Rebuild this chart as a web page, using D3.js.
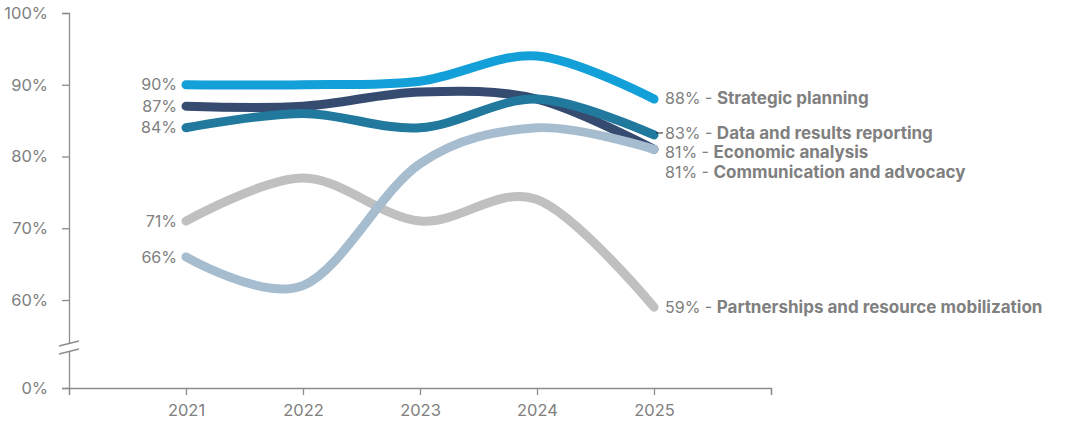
<!DOCTYPE html>
<html>
<head>
<meta charset="utf-8">
<script src="https://cdn.jsdelivr.net/npm/d3@7"></script>
<style>
  body { margin: 0; background: #fff; }
  svg text { font-family: Inter, "Open Sans", sans-serif; }
</style>
</head>
<body>
<svg id="chart" width="1073" height="421"></svg>
<script>
// data
const years = [2021, 2022, 2023, 2024, 2025];
const yTicks = [0, 60, 70, 80, 90, 100];
const strategicPlanning = [90, 90, 90.5, 94, 88];
const dataResults = [84, 86, 84, 88, 83];
const economicAnalysis = [87, 87, 89, 88, 81];
const communication = [66, 62, 79, 84, 81];
const partnerships = [71, 77, 71, 74, 59];

const width = 1073, height = 421;
const svg = d3.select('#chart');

// x: one step per year, axis runs a year past each end
const x = d3.scaleLinear().domain([2020, 2026]).range([69, 771]);
// y: broken axis, 0-50 squeezed into the bottom strip
const y = d3.scaleLinear().domain([0, 50, 100]).range([388, 371.75, 13]);

const axisColor = '#8c8c8c';
const textColor = '#808080';

// series in draw order (bottom first)
const series = [
  { name: 'Partnerships and resource mobilization', values: partnerships, color: '#c0c0c0', nudge: 0 },
  { name: 'Economic analysis', values: economicAnalysis, color: '#354b6f', nudge: 3 },
  { name: 'Communication and advocacy', values: communication, color: '#a6bccf', nudge: 23 },
  { name: 'Data and results reporting', values: dataResults, color: '#217a9d', nudge: -2, leader: true },
  { name: 'Strategic planning', values: strategicPlanning, color: '#13a0d8', nudge: -1 }
];

// y axis
const yAxis = svg.append('g')
  .attr('transform', `translate(${x(2020)},0)`)
  .call(d3.axisLeft(y).tickValues(yTicks).tickSize(7).tickFormat(d => d + '%'));
yAxis.select('.domain').attr('stroke', axisColor).attr('stroke-width', 1.3);
yAxis.selectAll('.tick line').attr('stroke', axisColor).attr('stroke-width', 1.3);
yAxis.selectAll('.tick text')
  .attr('x', -21)
  .attr('fill', textColor)
  .style('font-size', '16.5px');

// axis break
const bx = x(2020);
svg.append('polygon')
  .attr('points', `${bx - 10},${346} ${bx + 10},${341} ${bx + 10},${349} ${bx - 10},${354}`)
  .attr('fill', '#fff');
[[346, 341], [354, 349]].forEach(([a, b]) => {
  svg.append('line')
    .attr('x1', bx - 10).attr('y1', a)
    .attr('x2', bx + 10).attr('y2', b)
    .attr('stroke', axisColor).attr('stroke-width', 1.3);
});

// x axis
const xAxis = svg.append('g')
  .attr('transform', `translate(0,${y(0)})`)
  .call(d3.axisBottom(x).tickValues(d3.range(2020, 2027)).tickSize(7)
    .tickFormat(d => years.includes(d) ? d : ''));
xAxis.select('.domain').attr('stroke', axisColor).attr('stroke-width', 1.3);
xAxis.selectAll('.tick line').attr('stroke', axisColor).attr('stroke-width', 1.3);
xAxis.selectAll('.tick text')
  .attr('y', 16)
  .attr('fill', textColor)
  .style('font-size', '16.5px');

// lines
const line = d3.line()
  .x((d, i) => x(years[i]))
  .y(d => y(d))
  .curve(d3.curveCatmullRom.alpha(0));

svg.append('g').selectAll('path')
  .data(series)
  .enter().append('path')
  .attr('d', d => line(d.values))
  .attr('fill', 'none')
  .attr('stroke', d => d.color)
  .attr('stroke-width', 9)
  .attr('stroke-linecap', 'round')
  .attr('stroke-linejoin', 'round');

// start labels
svg.append('g').selectAll('text')
  .data(series)
  .enter().append('text')
  .attr('x', x(years[0]) - 9)
  .attr('y', d => y(d.values[0]))
  .attr('dy', '0.35em')
  .attr('text-anchor', 'end')
  .attr('fill', textColor)
  .style('font-size', '16px')
  .text(d => d.values[0] + '%');

// end labels
const last = years.length - 1;
series.filter(d => d.leader).forEach(d => {
  svg.append('line')
    .attr('x1', x(years[last]) + 2).attr('x2', x(years[last]) + 9)
    .attr('y1', y(d.values[last]) + d.nudge).attr('y2', y(d.values[last]) + d.nudge)
    .attr('stroke', '#222').attr('stroke-width', 1);
});
const endLabels = svg.append('g').selectAll('text')
  .data(series)
  .enter().append('text')
  .attr('x', x(years[last]) + 11)
  .attr('y', d => y(d.values[last]) + d.nudge)
  .attr('dy', '0.35em')
  .attr('fill', textColor)
  .style('font-size', '16px');
endLabels.append('tspan').text(d => d.values[last] + '% - ');
endLabels.append('tspan')
  .attr('font-weight', 'bold')
  .style('font-size', '17px')
  .text(d => d.name);
</script>
</body>
</html>
